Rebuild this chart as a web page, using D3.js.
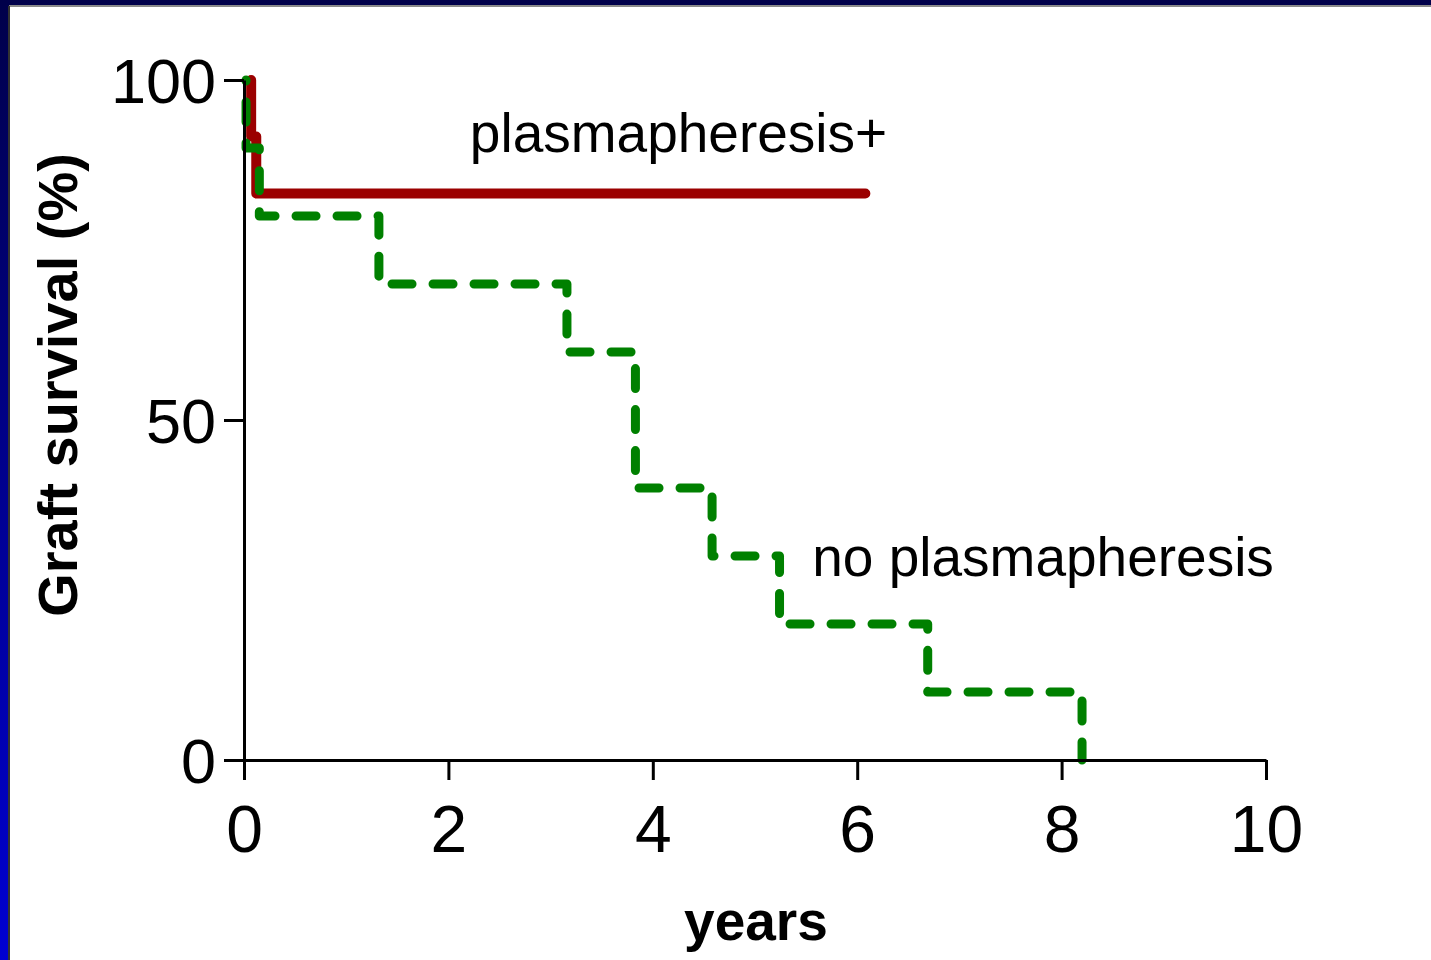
<!DOCTYPE html>
<html>
<head>
<meta charset="utf-8">
<script src="https://cdn.jsdelivr.net/npm/d3@7"></script>
<style>
  html, body { margin: 0; padding: 0; background: #fff; }
  svg { display: block; }
  text { font-family: "Liberation Sans", Arial, sans-serif; fill: #000; }
</style>
</head>
<body>
<div id="chart"></div>
<script>
var w = 1431;
var h = 960;

// Kaplan-Meier steps (years, % surviving)
var plasmaTimes = [0.07, 0.07, 0.12, 6.08];
var plasmaSurv = [100, 91.7, 83.3, 83.3];

var noPlasmaTimes = [0.02, 0.02, 0.15, 1.32, 3.16, 3.83, 4.58, 5.24, 6.69, 8.2];
var noPlasmaSurv = [100, 90, 80, 70, 60, 40, 30, 20, 10, 0];

var xTicks = [0, 2, 4, 6, 8, 10];
var yTicks = [0, 50, 100];

var svg = d3.select("#chart")
            .append("svg")
            .attr("width", w)
            .attr("height", h);

// slide frame: blue gradient band on top and left
var defs = svg.append("defs");
var grad = defs.append("linearGradient")
               .attr("id", "frame")
               .attr("x1", 0).attr("y1", 0)
               .attr("x2", 0).attr("y2", 1);
grad.append("stop").attr("offset", "0%").attr("stop-color", "#00004a");
grad.append("stop").attr("offset", "100%").attr("stop-color", "#0000d2");

svg.append("rect")
   .attr("width", w).attr("height", h)
   .style("fill", "url(#frame)");
svg.append("rect")
   .attr("x", 10).attr("y", 6)
   .attr("width", w - 10).attr("height", h - 6)
   .style("fill", "#fff");
svg.append("line")
   .attr("x1", 9).attr("y1", 6).attr("x2", w).attr("y2", 6)
   .style("stroke", "#8a8a8a").style("stroke-width", 2);
svg.append("line")
   .attr("x1", 9).attr("y1", 6).attr("x2", 9).attr("y2", h)
   .style("stroke", "#333").style("stroke-width", 2);

var x = d3.scaleLinear().domain([0, 10]).range([244, 1266]);
var y = d3.scaleLinear().domain([0, 100]).range([760, 80]);

var line = d3.line()
             .x(function(d) { return x(d[0]); })
             .y(function(d) { return y(d[1]); })
             .curve(d3.curveStepAfter);

var plasma = plasmaTimes.map(function(t, i) { return [t, plasmaSurv[i]]; });
var noPlasma = noPlasmaTimes.map(function(t, i) { return [t, noPlasmaSurv[i]]; });

svg.append("path")
   .attr("d", line(plasma))
   .style("fill", "none")
   .style("stroke", "#9b0000")
   .style("stroke-width", 10)
   .style("stroke-linecap", "round")
   .style("stroke-linejoin", "round");

var green = svg.append("path")
   .attr("d", line(noPlasma))
   .style("fill", "none")
   .style("stroke", "#008000")
   .style("stroke-width", 9)
   .style("stroke-dasharray", "20 21")
   .style("stroke-linecap", "round")
   .style("stroke-linejoin", "round");

// shift the dash phase so the last dash touches the x axis
var len = green.node().getTotalLength();
var period = 41;
green.style("stroke-dashoffset", (((18 - len) % period) + period) % period);

// axes
var yAxis = svg.append("g")
               .attr("transform", "translate(244,0)")
               .call(d3.axisLeft(y).tickValues(yTicks).tickSize(20).tickSizeOuter(0).tickFormat(d3.format("d")));
var xAxis = svg.append("g")
               .attr("transform", "translate(0,760)")
               .call(d3.axisBottom(x).tickValues(xTicks).tickSize(20).tickSizeOuter(0).tickFormat(d3.format("d")));

svg.selectAll(".domain, .tick line")
   .style("stroke", "#000")
   .style("stroke-width", 3);

yAxis.selectAll("text")
     .attr("x", -28)
     .attr("dy", "0.36em")
     .style("font-size", "63px");
xAxis.selectAll("text")
     .attr("y", 92)
     .attr("dy", 0)
     .style("font-size", "66px");
svg.selectAll(".tick text").style("font-family", "'Liberation Sans', Arial, sans-serif").style("fill", "#000");

// titles
svg.append("text")
   .attr("transform", "translate(77,385) rotate(-90)")
   .attr("text-anchor", "middle")
   .style("font-size", "56px")
   .style("font-weight", "bold")
   .text("Graft survival (%)");

svg.append("text")
   .attr("x", 756).attr("y", 940)
   .attr("text-anchor", "middle")
   .style("font-size", "55px")
   .style("font-weight", "bold")
   .text("years");

// curve labels
svg.append("text")
   .attr("x", x(2.21)).attr("y", y(89.4))
   .style("font-size", "55px")
   .text("plasmapheresis+");

svg.append("text")
   .attr("x", x(5.56)).attr("y", y(27.1))
   .style("font-size", "55px")
   .text("no plasmapheresis");
</script>
</body>
</html>
